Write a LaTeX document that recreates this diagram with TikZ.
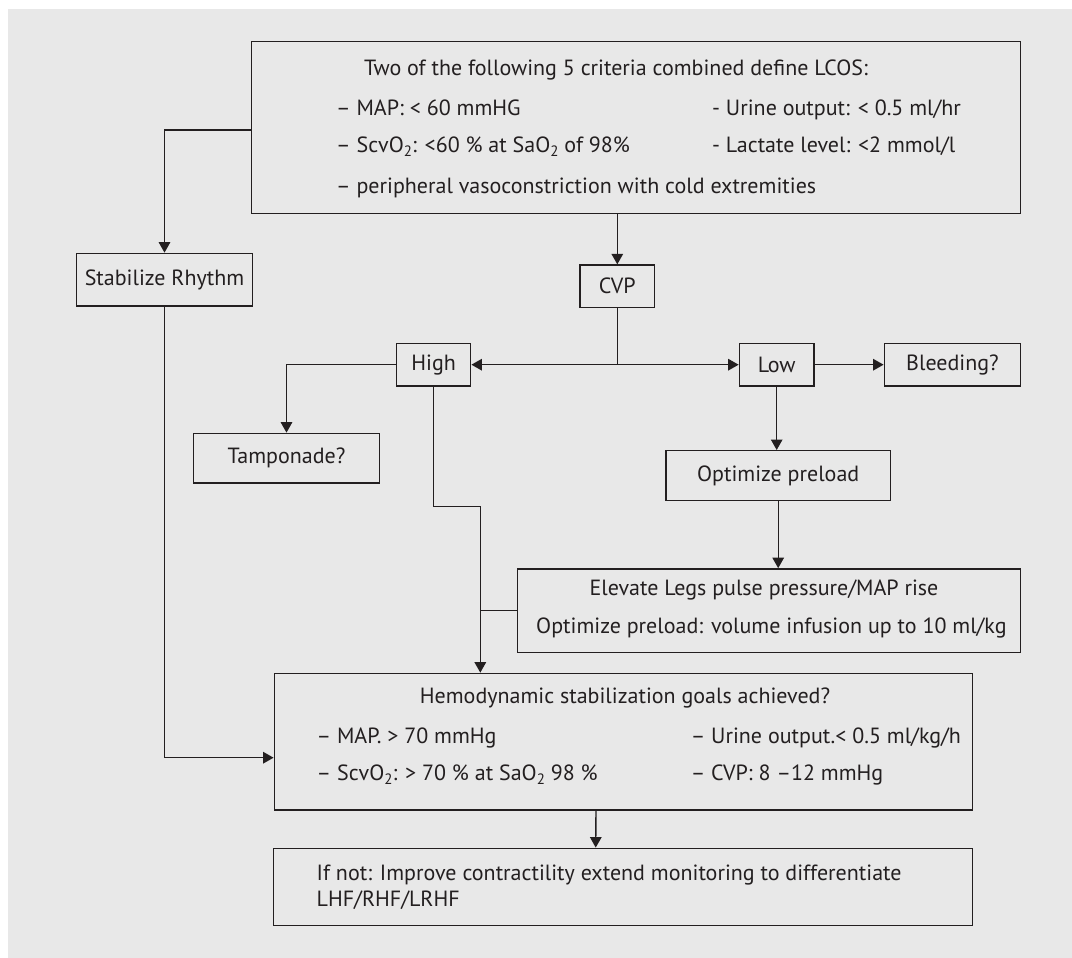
\documentclass[tikz,border=0pt]{standalone}
\usepackage{fontspec}
\setmainfont{PT Sans}
\usetikzlibrary{arrows.meta}
\definecolor{bgc}{HTML}{E8E8E8}
\definecolor{ink}{HTML}{231F20}
\newcommand\lowtwo{\raisebox{-0.4ex}{\fontsize{15}{15}\selectfont 2}}
\begin{document}
\begin{tikzpicture}[x=1pt,y=-1pt,font=\fontsize{22}{26}\selectfont,
  box/.style={draw=ink,line width=1.4pt,rectangle,inner sep=0pt,text=ink},
  txt/.style={inner sep=0pt,text=ink,anchor=base west},
  ctxt/.style={inner sep=0pt,text=ink,anchor=base},
  conn/.style={draw=ink,line width=1.4pt},
  arr/.style={conn,-{Triangle[length=10.5pt,width=11.5pt]}},
  arrboth/.style={conn,{Triangle[length=10.5pt,width=11.5pt]}-{Triangle[length=10.5pt,width=11.5pt]}}]
\useasboundingbox (0,0) rectangle (1072,958);
\fill[bgc] (8,9) rectangle (1072,958);
% boxes
\node[box,minimum width=769.4pt,minimum height=171.6pt] (top) at (635.9,127.5) {};
\node[box,minimum width=176pt,minimum height=52.7pt] (stab) at (164.5,279.7) {Stabilize Rhythm};
\node[box,minimum width=74.7pt,minimum height=42.3pt] (cvp) at (617.3,286.2) {CVP};
\node[box,minimum width=74.2pt,minimum height=42.7pt] (high) at (433.6,364.7) {High};
\node[box,minimum width=74.7pt,minimum height=42.7pt] (low) at (776.7,364.7) {Low};
\node[box,minimum width=136.4pt,minimum height=42.7pt] (bleed) at (952.5,364.7) {Bleeding?};
\node[box,minimum width=186.3pt,minimum height=49.7pt] (tamp) at (286.5,458.2) {Tamponade?};
\node[box,minimum width=224.3pt,minimum height=49.6pt] (opt) at (778.2,475.5) {Optimize preload};
\node[box,minimum width=503pt,minimum height=83.7pt] (elev) at (769,610.7) {};
\node[box,minimum width=698.4pt,minimum height=136.7pt] (hemo) at (623.5,741.7) {};
\node[box,minimum width=699pt,minimum height=77pt] (last) at (623.2,886.8) {};
% texts: top box
\node[txt] (t1) at (364,76) {Two of the following 5 criteria combined define LCOS:};
\node[txt] (t2) at (336,115.5) {– MAP: < 60 mmHG};
\node[txt] (t3) at (712,115.5) {- Urine output: < 0.5 ml/hr};
\node[txt] (t4) at (336,152.5) {– ScvO\lowtwo: <60 \% at SaO\lowtwo{} of 98\%};
\node[txt] (t5) at (712,152.5) {- Lactate level: <2 mmol/l};
\node[txt] (t6) at (336,193) {– peripheral vasoconstriction with cold extremities};
% elevate box
\node[ctxt] (e1) at (764,595) {Elevate Legs pulse pressure/MAP rise};
\node[ctxt] (e2) at (771.4,633.3) {Optimize preload: volume infusion up to 10 ml/kg};
% hemo box
\node[ctxt] (h1) at (625,703.5) {Hemodynamic stabilization goals achieved?};
\node[txt] (h2) at (316.5,743) {– MAP. > 70 mmHg};
\node[txt] (h3) at (690.6,743) {– Urine output.< 0.5 ml/kg/h};
\node[txt] (h4) at (316.5,780) {– ScvO\lowtwo: > 70 \% at SaO\lowtwo{} 98 \%};
\node[txt] (h5) at (690.6,780) {– CVP: 8 –12 mmHg};
% last box
\node[txt] (l1) at (316.5,880) {If not: Improve contractility extend monitoring to differentiate};
\node[txt] (l2) at (316.5,906.7) {LHF/RHF/LRHF};
% connectors
\coordinate (hb) at (480.3,506.7);
\draw[arr] ([yshift=-2.5pt]top.west) -| (stab.north);
\draw[arr] (top.south -| cvp.north) -- (cvp.north);
\draw[conn] (cvp.south) -- (cvp.south |- high.east);
\draw[arrboth] (high.east) -- (low.west);
\draw[arr] (low.east) -- (bleed.west);
\draw[arr] (low.south) -- (low.south |- opt.north);
\draw[arr] (high.west) -| (tamp.north);
\draw[arr] (opt.south) -- (opt.south |- elev.north);
\draw[arr] (high.south) |- (hb) -- (hb |- hemo.north);
\draw[conn] (elev.west) -- (elev.west -| hb);
\draw[arr] (stab.south) |- ([yshift=-16pt]hemo.west);
\draw[arr] ([xshift=-27.5pt]hemo.south) -- ([xshift=-27.5pt]last.north);
\end{tikzpicture}
\end{document}
